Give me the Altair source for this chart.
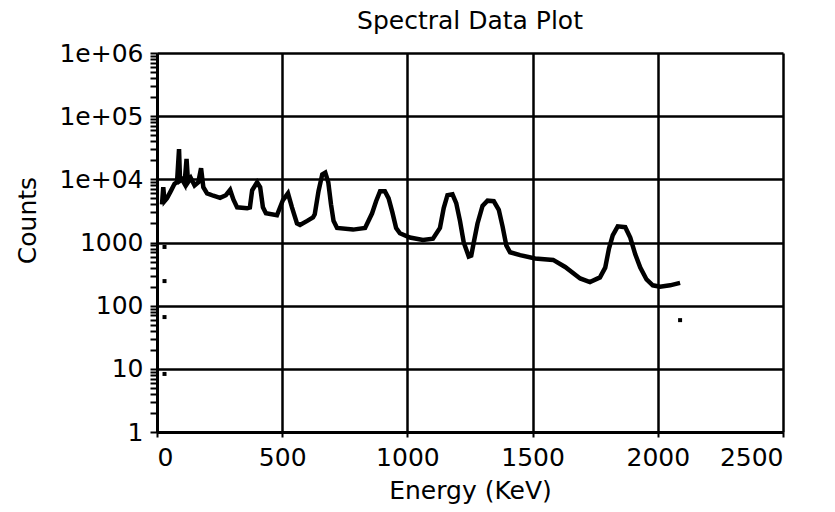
import altair as alt
import pandas as pd

# Spectrum (energy in keV, counts)
energy = [20, 25, 30, 40, 55, 70, 80, 88, 92, 100, 110, 118, 124, 135, 150, 165, 176, 185, 200, 225,
          252, 275, 292, 305, 320, 360, 371, 380, 400, 412, 423, 435, 479, 503, 523, 539, 559, 571, 600, 623,
          630, 645, 660, 672, 684, 695, 705, 719, 783, 831, 859, 875, 891, 910, 925, 940, 955, 970, 1010, 1062,
          1102, 1130, 1145, 1160, 1180, 1195, 1210, 1225, 1245, 1255, 1265, 1280, 1300, 1320, 1345, 1365, 1380, 1395, 1410, 1450,
          1510, 1582, 1630, 1690, 1729, 1769, 1790, 1805, 1820, 1840, 1870, 1890, 1910, 1930, 1955, 1980, 2009, 2049, 2089]
counts = [4000, 7500, 4500, 5000, 6500, 8500, 9000, 30000, 9500, 10000, 8500, 21000, 9000, 10500, 8000, 9000, 15000, 7500, 6000, 5500,
          5100, 5600, 6800, 4800, 3600, 3500, 3600, 6700, 9000, 7500, 3600, 2900, 2700, 4700, 6000, 3600, 2000, 1900, 2200, 2500,
          2800, 6500, 12000, 12800, 9000, 4000, 2200, 1700, 1600, 1700, 2900, 4500, 6500, 6500, 5000, 3000, 1700, 1400, 1200, 1100,
          1150, 1700, 3500, 5600, 5800, 4200, 2200, 1000, 600, 620, 1000, 2000, 3800, 4600, 4500, 3300, 1800, 900, 700, 630,
          560, 530, 410, 270, 237, 280, 400, 800, 1300, 1800, 1750, 1200, 650, 400, 260, 210, 200, 210, 230]

# Isolated channels
stray_energy = [30, 30, 30, 30, 2089]
stray_counts = [850, 245, 66, 8.3, 59]

x_ticks = [0, 500, 1000, 1500, 2000, 2500]
y_major = [1, 10, 100, 1000, 10000, 100000, 1000000]
y_major_labels = ["1", "10", "100", "1000", "1e+04", "1e+05", "1e+06"]
y_ticks = [m * d for d in y_major[:-1] for m in range(1, 10)] + [1000000]

FONT = "DejaVu Sans"
FS = 25

spec = pd.DataFrame({"energy": energy, "counts": counts})
stray = pd.DataFrame({"energy": stray_energy, "counts": stray_counts})

major_test = f"indexof({y_major}, datum.value) >= 0"
label_expr = f"{major_test} ? {y_major_labels}[indexof({y_major}, datum.value)] : ''"

x_enc = alt.X(
    "energy:Q",
    scale=alt.Scale(domain=[0, 2500], nice=False, zero=False),
    axis=alt.Axis(
        values=x_ticks, title="Energy (KeV)", format="d",
        tickSize=5, tickWidth=2, labelPadding=8, titlePadding=8,
        grid=True, gridColor="black", gridWidth=2.5,
        domainColor="black", domainWidth=3, tickColor="black",
    ),
)
y_enc = alt.Y(
    "counts:Q",
    scale=alt.Scale(type="log", domain=[1, 1000000], nice=False),
    axis=alt.Axis(
        values=y_ticks, labelExpr=label_expr, title="Counts",
        tickSize=7, tickWidth=2, labelPadding=7,
        grid=True, gridColor="black", gridWidth=2.5,
        gridOpacity={"condition": {"test": major_test, "value": 1}, "value": 0},
        domainColor="black", domainWidth=3, tickColor="black",
        titleX=-122, titleY=167, titleAngle=-90, titleBaseline="alphabetic", titleAlign="center",
    ),
)

line = alt.Chart(spec).mark_line(color="black", strokeWidth=4.5, clip=True).encode(x=x_enc, y=y_enc)
dots = alt.Chart(stray).mark_square(color="black", size=16, opacity=1).encode(x="energy:Q", y="counts:Q")

chart = (
    alt.layer(line, dots)
    .properties(
        width=626, height=379,
        title=alt.TitleParams("Spectral Data Plot", font=FONT, fontSize=FS, fontWeight="normal",
                              color="black", baseline="bottom", offset=-18, anchor="middle"),
        autosize=alt.AutoSizeParams(type="none"),
        padding={"left": 149, "top": 45, "right": 40, "bottom": 72},
    )
    .configure_view(stroke=None)
    .configure_axis(labelFont=FONT, labelFontSize=FS, labelColor="black",
                    titleFont=FONT, titleFontSize=FS, titleFontWeight="normal", titleColor="black")
)

chart.save("out.html", embed_options={"renderer": "svg", "actions": False})
